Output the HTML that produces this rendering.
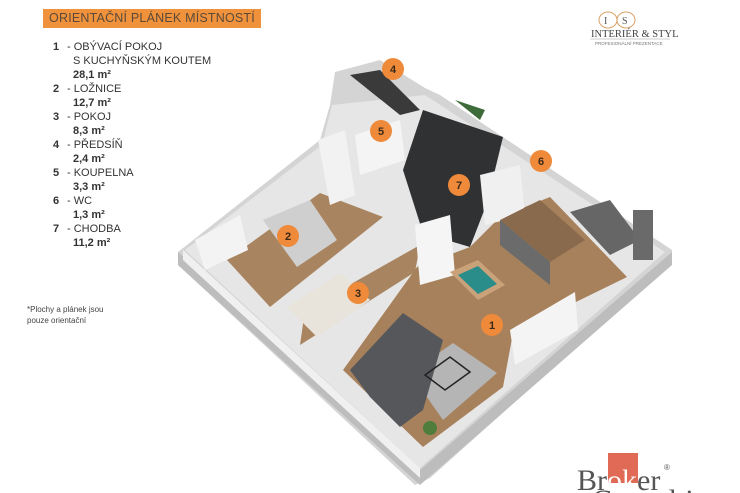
<!DOCTYPE html>
<html><head><meta charset="utf-8"><style>
body{margin:0;width:740px;height:493px;background:#fff;overflow:hidden;font-family:"Liberation Sans",sans-serif;position:relative}
.hdr{position:absolute;left:43px;top:9px;width:218px;height:19px;background:#f0913b;color:#5a4a3a;font-size:12.5px;line-height:19px;text-align:center;white-space:nowrap;letter-spacing:0.2px}
.leg{position:absolute;left:53px;top:40px;width:200px;font-size:11px;color:#333;line-height:14px}
.leg .r{position:relative;height:14px;white-space:nowrap}
.leg .n{position:absolute;left:0;font-weight:bold}
.leg .t{position:absolute;left:14px;white-space:nowrap}
.leg .a{position:absolute;left:20px;font-weight:bold;white-space:nowrap}
.note{position:absolute;left:27px;top:304px;font-size:8px;color:#444;line-height:11px;white-space:nowrap}
</style></head><body>
<div class="hdr">ORIENTAČNÍ PLÁNEK MÍSTNOSTÍ</div>
<div class="leg">
<div class="r"><span class="n">1</span><span class="t">- OBÝVACÍ POKOJ</span></div>
<div class="r"><span class="a" style="font-weight:normal">S KUCHYŇSKÝM KOUTEM</span></div>
<div class="r"><span class="a">28,1 m²</span></div>
<div class="r"><span class="n">2</span><span class="t">- LOŽNICE</span></div>
<div class="r"><span class="a">12,7 m²</span></div>
<div class="r"><span class="n">3</span><span class="t">- POKOJ</span></div>
<div class="r"><span class="a">8,3 m²</span></div>
<div class="r"><span class="n">4</span><span class="t">- PŘEDSÍŇ</span></div>
<div class="r"><span class="a">2,4 m²</span></div>
<div class="r"><span class="n">5</span><span class="t">- KOUPELNA</span></div>
<div class="r"><span class="a">3,3 m²</span></div>
<div class="r"><span class="n">6</span><span class="t">- WC</span></div>
<div class="r"><span class="a">1,3 m²</span></div>
<div class="r"><span class="n">7</span><span class="t">- CHODBA</span></div>
<div class="r"><span class="a">11,2 m²</span></div>
</div>
<div class="note">*Plochy a plánek jsou<br>pouze orientační</div>

<svg width="740" height="493" style="position:absolute;left:0;top:0">
<g fill="none" stroke="#d9a066" stroke-width="1">
<ellipse cx="608" cy="20" rx="9" ry="8"/><ellipse cx="626" cy="20" rx="9" ry="8"/></g>
<text x="604" y="24" font-family="Liberation Serif,serif" font-size="10" fill="#555">I</text>
<text x="622" y="24" font-family="Liberation Serif,serif" font-size="10" fill="#555">S</text>
<text x="591" y="37" font-family="Liberation Serif,serif" font-size="10.5" fill="#444">INTERIÉR &amp; STYL</text>
<line x1="590" y1="39" x2="670" y2="39" stroke="#999" stroke-width="0.6"/>
<text x="595" y="45" font-family="Liberation Sans,sans-serif" font-size="4.5" fill="#777">PROFESIONÁLNÍ PREZENTACE</text>

<polygon points="178,252 320,140 330,105 335,72 380,60 425,88 440,95 672,250 672,262 430,478 415,485 178,265" fill="#d4d4d4"/>
<polygon points="178,252 420,470 672,252 672,265 420,485 178,265" fill="#bdbdbd"/>
<polygon points="185,250 322,145 332,105 425,95 665,252 420,468" fill="#e6e6e6"/>
<polygon points="227,260 320,193 383,217 270,307" fill="#a98460"/>
<polygon points="300,345 415,272 420,245 305,310" fill="#a98460"/>
<polygon points="423,447 503,387 513,333 580,300 627,277 550,197 500,217 470,247 417,267 343,370" fill="#a7815c"/>
<polygon points="423,110 503,137 487,203 470,247 423,233 403,170" fill="#2f3133"/>
<polygon points="350,75 380,70 420,110 400,115" fill="#3a3a3a"/>
<polygon points="318,140 345,130 355,195 330,205" fill="#f2f2f2"/>
<polygon points="355,135 400,120 405,160 360,175" fill="#f4f4f4"/>
<polygon points="480,175 520,165 525,215 485,225" fill="#f0f0f0"/>
<polygon points="415,225 450,215 455,275 420,285" fill="#f5f5f5"/>
<polygon points="195,240 240,215 248,250 205,270" fill="#f3f3f3"/>
<polygon points="510,330 575,292 578,330 515,365" fill="#f4f4f4"/>
<polygon points="183,250 420,468 420,478 183,260" fill="#f0f0f0"/>
<polygon points="263,220 310,200 337,240 297,267" fill="#cfcfcf"/>
<polygon points="500,220 540,200 585,240 550,262" fill="#8a6a4c"/>
<polygon points="500,220 550,262 550,285 500,245" fill="#6b6b6b"/>
<polygon points="570,212 610,200 640,240 610,255" fill="#666"/>
<rect x="633" y="210" width="20" height="50" fill="#6a6a6a"/>
<polygon points="450,272 478,260 505,285 478,300" fill="#c9a27a"/>
<polygon points="458,275 478,266 497,284 478,294" fill="#2a8d8a"/>
<polygon points="287,307 340,273 370,300 317,337" fill="#e8e4dc"/>
<polygon points="410,373 453,343 497,373 443,420" fill="#b5b5b5"/>
<polygon points="350,370 403,313 443,340 423,410 400,427 370,397" fill="#55575b"/>
<polygon points="425,375 450,357 470,372 445,390" fill="none" stroke="#222" stroke-width="1.5"/>
<polygon points="455,100 485,110 480,120" fill="#3d6b3a"/>
<circle cx="430" cy="428" r="7" fill="#4e7d3c"/>
<g fill="#ee8a3a"><circle cx="492" cy="325" r="11"/><circle cx="288" cy="236" r="11"/><circle cx="358" cy="293" r="11"/><circle cx="393" cy="69" r="11"/><circle cx="381" cy="131" r="11"/><circle cx="541" cy="161" r="11"/><circle cx="459" cy="185" r="11"/></g>
<g font-family="Liberation Sans,sans-serif" font-weight="bold" font-size="11" fill="#3a2a1a" text-anchor="middle">
<text x="492" y="329">1</text><text x="288" y="240">2</text><text x="358" y="297">3</text><text x="393" y="73">4</text><text x="381" y="135">5</text><text x="541" y="165">6</text><text x="459" y="189">7</text></g>
<rect x="608" y="453" width="30" height="30" fill="#e06a55"/>
<text x="577" y="490" font-family="Liberation Serif,serif" font-size="30" fill="#555">Br<tspan fill="#fff">ok</tspan>er</text>
<text x="664" y="470" font-family="Liberation Sans,sans-serif" font-size="8" fill="#555">®</text>
<text x="592" y="510" font-family="Liberation Serif,serif" font-size="30" fill="#555">Consulting</text>
</svg>
</body></html>
